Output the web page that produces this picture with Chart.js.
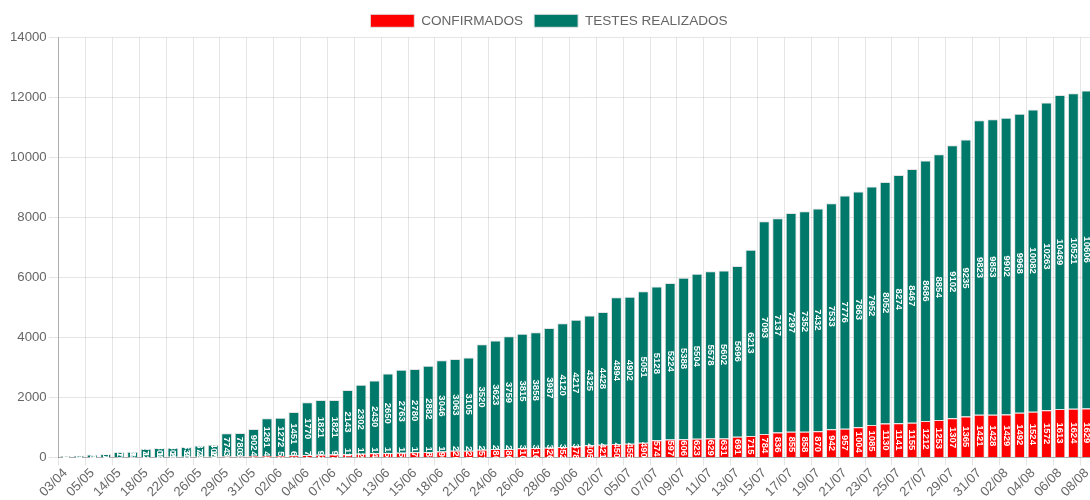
<!DOCTYPE html>
<html>
<head>
<meta charset="utf-8">
<script src="https://cdn.jsdelivr.net/npm/chart.js@4.4.0/dist/chart.umd.min.js"></script>
<style>
  html, body { margin: 0; padding: 0; background: #fff; overflow: hidden; }
  #wrap { width: 1098px; height: 500px; position: relative; }
</style>
</head>
<body>
<div id="wrap"><canvas id="c"></canvas></div>
<script>
const labels = ["03/04","20/04","05/05","10/05","14/05","16/05","18/05","20/05","22/05","24/05",
  "26/05","28/05","29/05","30/05","31/05","01/06","02/06","03/06","04/06","05/06",
  "07/06","08/06","11/06","12/06","13/06","14/06","15/06","16/06","18/06","19/06",
  "21/06","22/06","24/06","25/06","26/06","27/06","28/06","29/06","30/06","01/07",
  "02/07","03/07","05/07","06/07","07/07","08/07","09/07","10/07","11/07","12/07",
  "13/07","14/07","15/07","16/07","17/07","18/07","19/07","20/07","21/07","22/07",
  "23/07","24/07","25/07","26/07","27/07","28/07","29/07","30/07","31/07","01/08",
  "02/08","03/08","04/08","05/08","06/08","07/08","08/08"];

const confirmados = [1,3,5,7,10,12,15,18,20,22,
  25,27,30,33,44,48,52,63,74,92,
  97,110,125,140,150,158,170,180,195,220,
  225,257,280,286,310,316,326,352,378,405,
  421,450,455,490,574,597,606,623,629,631,
  691,715,784,836,855,858,870,942,957,1004,
  1085,1130,1141,1155,1212,1253,1307,1365,1421,1428,
  1429,1492,1524,1572,1613,1624,1629];

const testes = [48,65,95,105,175,180,272,300,300,330,
  372,400,774,780,902,1261,1272,1451,1770,1821,
  1821,2143,2302,2430,2650,2763,2780,2882,3046,3063,
  3105,3520,3623,3759,3815,3858,3987,4120,4217,4325,
  4428,4894,4902,5051,5128,5224,5388,5504,5578,5602,
  5696,6213,7093,7137,7297,7352,7432,7533,7776,7863,
  7952,8052,8274,8467,8686,8854,9102,9235,9823,9853,
  9902,9968,10082,10263,10469,10521,10606];

const yTicks = { min: 0, max: 14000, step: 2000 };

Chart.defaults.font.family = 'Arial, "Liberation Sans", Helvetica, sans-serif';
Chart.defaults.color = '#666';

const barLabels = {
  id: 'barLabels',
  afterDatasetsDraw(chart) {
    const ctx = chart.ctx;
    ctx.save();
    ctx.font = 'bold 9.5px Arial, "Liberation Sans", sans-serif';
    ctx.fillStyle = '#fff';
    ctx.textAlign = 'center';
    ctx.textBaseline = 'middle';
    chart.data.datasets.forEach((ds, di) => {
      const meta = chart.getDatasetMeta(di);
      meta.data.forEach((bar, i) => {
        const cy = (bar.y + bar.base) / 2;
        ctx.save();
        ctx.translate(bar.x, cy);
        ctx.rotate(Math.PI / 2);
        ctx.fillText(String(ds.data[i]), 0, 0);
        ctx.restore();
      });
    });
    ctx.restore();
  }
};

new Chart(document.getElementById('c'), {
  type: 'bar',
  data: {
    labels: labels,
    datasets: [
      { label: 'CONFIRMADOS', data: confirmados, backgroundColor: '#ff0000',
        borderColor: '#e3e3e3', borderWidth: 1, barPercentage: 0.9, categoryPercentage: 0.9 },
      { label: 'TESTES REALIZADOS', data: testes, backgroundColor: '#00796b',
        borderColor: '#e3e3e3', borderWidth: 1, barPercentage: 0.9, categoryPercentage: 0.9 }
    ]
  },
  options: {
    responsive: true,
    maintainAspectRatio: false,
    animation: false,
    layout: { padding: { left: 0, right: 0, top: 3, bottom: 0 } },
    plugins: {
      legend: {
        position: 'top',
        labels: { boxWidth: 44, boxHeight: 13, color: '#666', font: { size: 13.6 }, padding: 11 }
      },
      tooltip: { enabled: false }
    },
    scales: {
      x: {
        stacked: true,
        grid: {
          color: (c) => (c.index % 2 === 0 ? 'rgba(0,0,0,0.1)' : 'rgba(0,0,0,0)'),
          tickLength: 8
        },
        border: { color: 'rgba(0,0,0,0.25)' },
        ticks: {
          autoSkip: false, minRotation: 45, maxRotation: 45, color: '#666', padding: 0,
          font: { size: 13.2 },
          callback: (v, i) => (i % 2 === 0 ? labels[i] : '')
        }
      },
      y: {
        stacked: true,
        min: yTicks.min, max: yTicks.max,
        afterFit: (s) => { s.width += 8; },
        grid: { color: 'rgba(0,0,0,0.1)', tickLength: 10 },
        border: { color: 'rgba(0,0,0,0.25)' },
        ticks: { stepSize: yTicks.step, color: '#666', font: { size: 13.2 }, padding: 2,
          callback: (v) => String(v) }
      }
    }
  },
  plugins: [barLabels]
});
</script>
</body>
</html>
